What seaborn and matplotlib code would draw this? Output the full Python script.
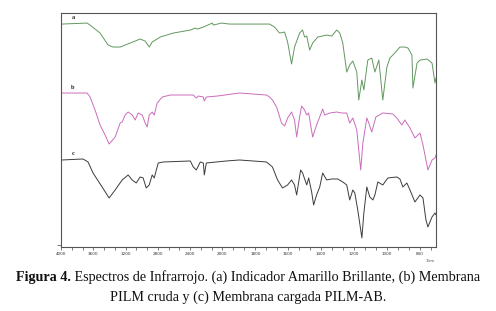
import numpy as np
import pandas as pd
import matplotlib
matplotlib.use("Agg")
import matplotlib.pyplot as plt
import seaborn as sns
from matplotlib.ticker import FixedLocator, NullFormatter

# --- Spectra (wavenumber cm-1, stacked transmittance, arbitrary units) ---
wn_a = [3988, 3677, 3640, 3516, 3416, 3354, 3267, 3143, 3019, 2957, 2907, 2870, 2770, 2609,
        2398, 2336, 2311, 2236, 2125, 2112, 2010, 1957, 1896, 1714, 1683, 1653, 1622, 1604,
        1580, 1562, 1531, 1513, 1501, 1488, 1470, 1452, 1421, 1367, 1336, 1306, 1287, 1269,
        1245, 1227, 1208, 1184, 1172, 1153, 1141, 1117, 1093, 1074, 1050, 1026, 1001, 983,
        953, 922, 892, 873, 849, 843, 818, 800, 757, 727, 709, 703]
t_a = [221, 222, 220, 212, 200, 198, 198, 202, 206, 204, 198, 203, 208, 212,
       215, 217, 216, 218, 222, 220, 222, 221, 221, 221, 218, 212, 213, 203,
       181, 198, 212, 215, 208, 209, 195, 202, 208, 210, 209, 215, 212, 202,
       173, 180, 184, 173, 145, 165, 155, 185, 187, 173, 185, 145, 178, 187,
       192, 198, 198, 197, 190, 157, 182, 185, 186, 182, 162, 167]

wn_b = [3988, 3677, 3640, 3578, 3516, 3454, 3404, 3329, 3267, 3242, 3205, 3168, 3118, 3081,
        3044, 2994, 2957, 2932, 2907, 2870, 2845, 2808, 2746, 2646, 2361, 2323, 2298, 2236,
        2224, 2199, 2062, 1896, 1732, 1714, 1696, 1671, 1641, 1622, 1604, 1580, 1562, 1549,
        1531, 1519, 1501, 1488, 1476, 1452, 1428, 1409, 1391, 1379, 1348, 1306, 1275, 1245,
        1227, 1208, 1184, 1160, 1147, 1123, 1111, 1093, 1068, 1026, 965, 941, 910, 892,
        861, 831, 800, 782, 752, 727, 709, 703]
t_b = [152, 152, 148, 135, 120, 110, 101, 108, 122, 123, 130, 133, 130, 125,
       132, 130, 122, 118, 130, 133, 130, 142, 148, 150, 150, 147, 149, 148,
       144, 148, 149, 152, 150, 148, 145, 138, 122, 119, 127, 133, 125, 108,
       128, 139, 135, 130, 132, 108, 120, 128, 136, 130, 132, 133, 132, 132,
       122, 127, 115, 75, 102, 127, 122, 113, 128, 132, 131, 127, 120, 125,
       117, 107, 112, 100, 75, 85, 87, 90]

wn_c = [3988, 3727, 3665, 3603, 3491, 3404, 3329, 3242, 3168, 3118, 3068, 3019, 2982, 2944,
        2907, 2870, 2845, 2795, 2733, 2398, 2361, 2323, 2274, 2236, 2224, 2199, 1976, 1896,
        1732, 1696, 1665, 1635, 1604, 1580, 1562, 1549, 1525, 1513, 1488, 1476, 1458, 1446,
        1428, 1409, 1391, 1367, 1336, 1300, 1269, 1245, 1227, 1208, 1196, 1178, 1153, 1141,
        1123, 1105, 1086, 1074, 1056, 1026, 995, 941, 922, 904, 880, 861, 831, 800,
        782, 764, 752, 727, 709, 703]
t_c = [85, 86, 83, 72, 58, 47, 55, 65, 70, 65, 62, 68, 67, 57,
       60, 70, 67, 82, 83, 84, 78, 75, 83, 82, 70, 82, 84, 85,
       83, 78, 65, 57, 60, 65, 60, 50, 75, 72, 60, 67, 53, 40,
       50, 58, 72, 65, 66, 66, 63, 60, 45, 55, 52, 35, 7, 32,
       58, 48, 45, 50, 63, 60, 67, 68, 66, 58, 62, 55, 43, 50,
       47, 25, 18, 28, 32, 30]

labels = ["a", "b", "c"]
colors = ["#62985f", "#cc6cbb", "#3c3c3c"]
x_ticks = [4000, 3600, 3200, 2800, 2400, 2000, 1800, 1600, 1400, 1200, 1000, 800]

df = pd.concat([
    pd.DataFrame({"wn": wn_a, "T": t_a, "trace": "a"}),
    pd.DataFrame({"wn": wn_b, "T": t_b, "trace": "b"}),
    pd.DataFrame({"wn": wn_c, "T": t_c, "trace": "c"}),
])

sns.set_theme(style="white")
plt.rcParams["font.family"] = ["Liberation Serif", "DejaVu Serif"]

# two-scale wavenumber axis (above 2000 cm-1 compressed)
K = 0.49


def fwd(w):
    w = np.asarray(w, dtype=float)
    return np.where(w > 2000, 2000 + (w - 2000) * K, w)


def inv(u):
    u = np.asarray(u, dtype=float)
    return np.where(u > 2000, 2000 + (u - 2000) / K, u)


fig = plt.figure(figsize=(4.96, 3.11), dpi=100)
ax = fig.add_axes([0.123, 0.206, 0.756, 0.752])
ax.set_xscale("function", functions=(fwd, inv))

for lab, col in zip(labels, colors):
    sns.lineplot(data=df[df["trace"] == lab], x="wn", y="T", color=col,
                 linewidth=0.7, ax=ax, sort=False, estimator=None)

ax.set_xlim(4000, 703)
ax.set_ylim(-2, 232)
ax.set_xlabel("")
ax.set_ylabel("")

# curve letters
for lab, yy in zip(labels, [228, 158, 91]):
    ax.text(3850, yy, lab, fontsize=4.5, fontweight="bold", color="#222222",
            ha="center", va="center")

# ticks
ax.xaxis.set_major_locator(FixedLocator(x_ticks))
ax.set_xticklabels([str(t) for t in x_ticks], fontsize=3, color="#333333",
                   family="DejaVu Sans")
minors = list(np.arange(4000, 2000, -400 / 3)) + list(np.arange(2000, 700, -200 / 3))
ax.xaxis.set_minor_locator(FixedLocator(minors))
ax.xaxis.set_minor_formatter(NullFormatter())
ax.tick_params(axis="x", which="both", direction="out", length=2.5, width=0.5,
               color="#444444", pad=1.5, bottom=True)
ax.set_yticks([0])
ax.set_yticklabels([""])
ax.tick_params(axis="y", direction="out", length=3, width=0.5, color="#444444", left=True)
ax.text(0.985, -0.062, "1/cm", transform=ax.transAxes, fontsize=2.5,
        family="DejaVu Sans", color="#333333", ha="center", va="center")

for s in ax.spines.values():
    s.set_color("#555555")
    s.set_linewidth(0.8)

# caption, first line with bold lead-in, both lines centred
r = fig.canvas.get_renderer()
FS = 10.2
bold = "Figura 4."
rest = " Espectros de Infrarrojo. (a) Indicador Amarillo Brillante, (b) Membrana"
y1 = 1 - 277 / 311
t1 = fig.text(0, y1, bold, fontsize=FS, fontweight="bold", va="center", color="#111111")
t2 = fig.text(0, y1, rest, fontsize=FS, va="center", color="#111111")
w1 = t1.get_window_extent(r).width
w2 = t2.get_window_extent(r).width
x0 = 248 - (w1 + w2) / 2
t1.set_x(x0 / 496)
t2.set_x((x0 + w1) / 496)
fig.text(248 / 496, 1 - 297 / 311, "PILM cruda y (c) Membrana cargada PILM-AB.",
         fontsize=FS, ha="center", va="center", color="#111111")

fig.savefig("out.png", dpi=100)
